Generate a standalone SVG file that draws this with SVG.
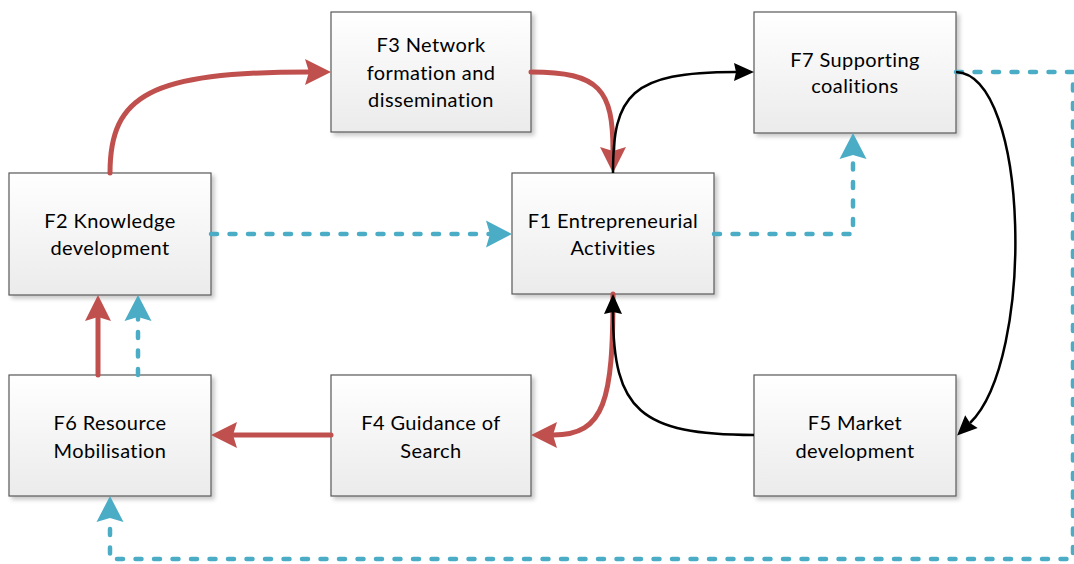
<svg xmlns="http://www.w3.org/2000/svg" width="1074" height="564" viewBox="0 0 1074 564">
  <defs>
    <linearGradient id="boxFill" x1="0" y1="0" x2="0" y2="1">
      <stop offset="0" stop-color="#ffffff"/>
      <stop offset="1" stop-color="#ebebeb"/>
    </linearGradient>
    <filter id="shadow" x="-10%" y="-10%" width="125%" height="130%">
      <feDropShadow dx="3" dy="3" stdDeviation="2" flood-color="#000" flood-opacity="0.22"/>
    </filter>
    <!-- arrowheads: origin sits at the notch, tip points along +x -->
    <marker id="arrowRed" markerUnits="userSpaceOnUse" viewBox="-5 -14 28 28" refX="0" refY="0" markerWidth="28" markerHeight="28" orient="auto" overflow="visible">
      <path d="M22,0 L-4,-13 L0,0 L-4,13 Z" fill="#c0504d"/>
    </marker>
    <marker id="arrowBlue" markerUnits="userSpaceOnUse" viewBox="-5 -14 28 28" refX="0" refY="0" markerWidth="28" markerHeight="28" orient="auto" overflow="visible">
      <path d="M22,0 L-4,-13.5 L0,0 L-4,13.5 Z" fill="#4bacc6"/>
    </marker>
    <marker id="arrowBlack" markerUnits="userSpaceOnUse" viewBox="-3 -10 22 20" refX="0" refY="0" markerWidth="22" markerHeight="20" orient="auto" overflow="visible">
      <path d="M18,0 L-2,-9 L0,0 L-2,9 Z" fill="#000"/>
    </marker>
  </defs>
  <style>
    .box { fill: url(#boxFill); stroke: #595959; stroke-width: 1.2; filter: url(#shadow); }
    .label { font-family: Lato, "Liberation Sans", sans-serif; font-size: 20px; letter-spacing: 0.4px; font-variant-ligatures: none; fill: #000; text-anchor: middle; }
    .red { fill: none; stroke: #c0504d; stroke-width: 5; stroke-linecap: round; marker-end: url(#arrowRed); }
    .blue { fill: none; stroke: #4bacc6; stroke-width: 4.5; stroke-linecap: round; stroke-linejoin: round; stroke-dasharray: 6 12.5; marker-end: url(#arrowBlue); }
    .black { fill: none; stroke: #000; stroke-width: 2.5; marker-end: url(#arrowBlack); }
  </style>

  <rect width="1074" height="564" fill="#ffffff"/>

  <!-- functions -->
  <g id="f3">
    <rect class="box" x="331" y="12" width="200" height="120"/>
    <text class="label" x="431" y="52">F3 Network</text>
    <text class="label" x="431" y="80">formation and</text>
    <text class="label" x="431" y="107">dissemination</text>
  </g>
  <g id="f7">
    <rect class="box" x="754" y="12" width="202" height="121"/>
    <text class="label" x="855" y="67">F7 Supporting</text>
    <text class="label" x="855" y="93">coalitions</text>
  </g>
  <g id="f2">
    <rect class="box" x="9" y="173" width="202" height="122"/>
    <text class="label" x="110" y="228">F2 Knowledge</text>
    <text class="label" x="110" y="255">development</text>
  </g>
  <g id="f1">
    <rect class="box" x="512" y="173" width="202" height="121"/>
    <text class="label" x="613" y="228">F1 Entrepreneurial</text>
    <text class="label" x="613" y="255">Activities</text>
  </g>
  <g id="f6">
    <rect class="box" x="9" y="375" width="202" height="121"/>
    <text class="label" x="110" y="430">F6 Resource</text>
    <text class="label" x="110" y="458">Mobilisation</text>
  </g>
  <g id="f4">
    <rect class="box" x="331" y="375" width="200" height="121"/>
    <text class="label" x="431" y="430">F4 Guidance of</text>
    <text class="label" x="431" y="458">Search</text>
  </g>
  <g id="f5">
    <rect class="box" x="754" y="375" width="202" height="121"/>
    <text class="label" x="855" y="430">F5 Market</text>
    <text class="label" x="855" y="458">development</text>
  </g>

  <!-- interactions -->
  <g id="connectors">
    <!-- dashed feedback links -->
    <path class="blue" d="M138,375 L138,317"/>
    <path class="blue" d="M211,234 L490,234"/>
    <path class="blue" d="M714,234 H853 V155"/>
    <path class="blue" d="M956,72 H1073 V559 H110 V518"/>
    <!-- main motors -->
    <path class="red" d="M110,173 C110,95 150,72 309,72"/>
    <path class="red" d="M531,72 C600,72 613,90 613,151"/>
    <path class="red" d="M613,294 C613,400 605,435 553,435"/>
    <path class="red" d="M331,435 L233,435"/>
    <path class="red" d="M98,375 L98,317"/>
    <!-- market loop -->
    <path class="black" d="M613,173 C613,95 630,72 736,72"/>
    <path class="black" d="M956,72 C1030,75 1035,360 970,423"/>
    <path class="black" d="M754,435 C640,435 613,410 613,312"/>
  </g>
</svg>
